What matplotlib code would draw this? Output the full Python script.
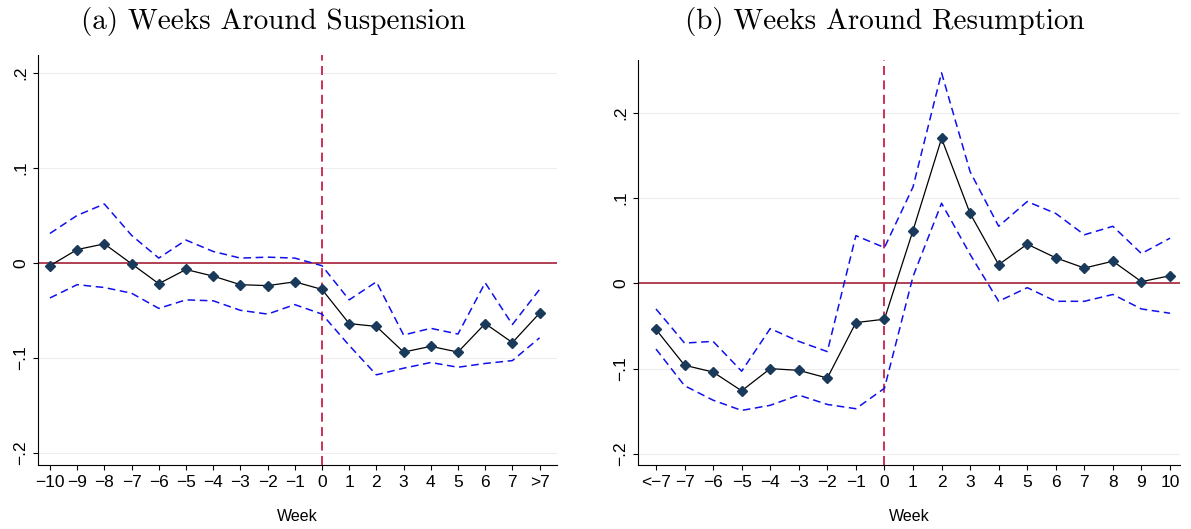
import matplotlib.pyplot as plt

# panel (a): weeks around suspension
labels_a = ['\u221210', '\u22129', '\u22128', '\u22127', '\u22126', '\u22125', '\u22124', '\u22123', '\u22122', '\u22121',
            '0', '1', '2', '3', '4', '5', '6', '7', '>7']
coef_a = [-0.003, 0.014, 0.020, -0.001, -0.022, -0.007, -0.014, -0.023, -0.024, -0.020,
          -0.028, -0.064, -0.067, -0.094, -0.088, -0.094, -0.064, -0.084, -0.053]
upper_a = [0.031, 0.050, 0.062, 0.029, 0.005, 0.024, 0.012, 0.005, 0.006, 0.005,
           -0.003, -0.039, -0.020, -0.076, -0.069, -0.075, -0.021, -0.065, -0.028]
lower_a = [-0.037, -0.023, -0.026, -0.032, -0.048, -0.039, -0.040, -0.050, -0.054, -0.044,
           -0.054, -0.087, -0.118, -0.111, -0.105, -0.110, -0.106, -0.103, -0.079]

# panel (b): weeks around resumption
labels_b = ['<\u22127', '\u22127', '\u22126', '\u22125', '\u22124', '\u22123', '\u22122', '\u22121',
            '0', '1', '2', '3', '4', '5', '6', '7', '8', '9', '10']
coef_b = [-0.054, -0.096, -0.104, -0.126, -0.100, -0.102, -0.111, -0.046,
          -0.042, 0.062, 0.170, 0.082, 0.022, 0.046, 0.030, 0.018, 0.026, 0.002, 0.009]
upper_b = [-0.030, -0.070, -0.068, -0.103, -0.053, -0.068, -0.080, 0.056,
           0.042, 0.113, 0.247, 0.131, 0.067, 0.096, 0.082, 0.057, 0.067, 0.035, 0.053]
lower_b = [-0.077, -0.120, -0.137, -0.149, -0.143, -0.131, -0.142, -0.147,
           -0.123, 0.008, 0.094, 0.034, -0.021, -0.005, -0.021, -0.021, -0.013, -0.030, -0.035]

plt.rcParams['font.family'] = ['Liberation Sans', 'DejaVu Sans']
fig = plt.figure(figsize=(11.91, 5.29), dpi=100)
ax_a = fig.add_axes([38/1191, 64/529, 519/1191, 410/529])
ax_b = fig.add_axes([638/1191, 64/529, 542/1191, 405/529])

def draw(ax, labels, coef, upper, lower, zero_idx, title, ylim, xlim):
    x = list(range(len(labels)))
    for t in [-0.2, -0.1, 0, 0.1, 0.2]:
        ax.axhline(t, color='#eeeeee', lw=0.8, zorder=0)
    ax.axhline(0, color='#a0102a', lw=1.1, zorder=1)
    ax.axvline(zero_idx, color='#c8204a', lw=1.3, ls=(0, (5, 3)), zorder=1)
    ax.plot(x, upper, color='#1010ee', lw=1.1, ls=(0, (5, 3)))
    ax.plot(x, lower, color='#1010ee', lw=1.1, ls=(0, (5, 3)))
    ax.plot(x, coef, color='black', lw=0.9, marker='D', ms=5.5,
            markerfacecolor='#1a3a5c', markeredgecolor='#1a3a5c')
    ax.set_xticks(x)
    ax.set_xticklabels(labels, fontsize=12.5)
    ax.set_yticks([-0.2, -0.1, 0, 0.1, 0.2])
    ax.set_yticklabels(['\u2212.2', '\u2212.1', '0', '.1', '.2'], rotation=90, va='center', fontsize=12.5)
    ax.set_ylim(*ylim)
    ax.set_xlim(*xlim)
    ax.spines['top'].set_visible(False)
    ax.spines['right'].set_visible(False)
    ax.set_xlabel('Week', fontsize=11.5, labelpad=14)
    cx = ax.get_position().x0 + ax.get_position().width / 2
    fig.text(cx - 0.02, 1 - 22/529, title, fontsize=21, family='cmr10', ha='center', va='center')

draw(ax_a, labels_a, coef_a, upper_a, lower_a, 10, '(a) Weeks Around Suspension', (-0.213, 0.219), (-0.44, 18.64))
draw(ax_b, labels_b, coef_b, upper_b, lower_b, 8, '(b) Weeks Around Resumption', (-0.213, 0.262), (-0.63, 18.35))

fig.savefig('out.png', dpi=100)
